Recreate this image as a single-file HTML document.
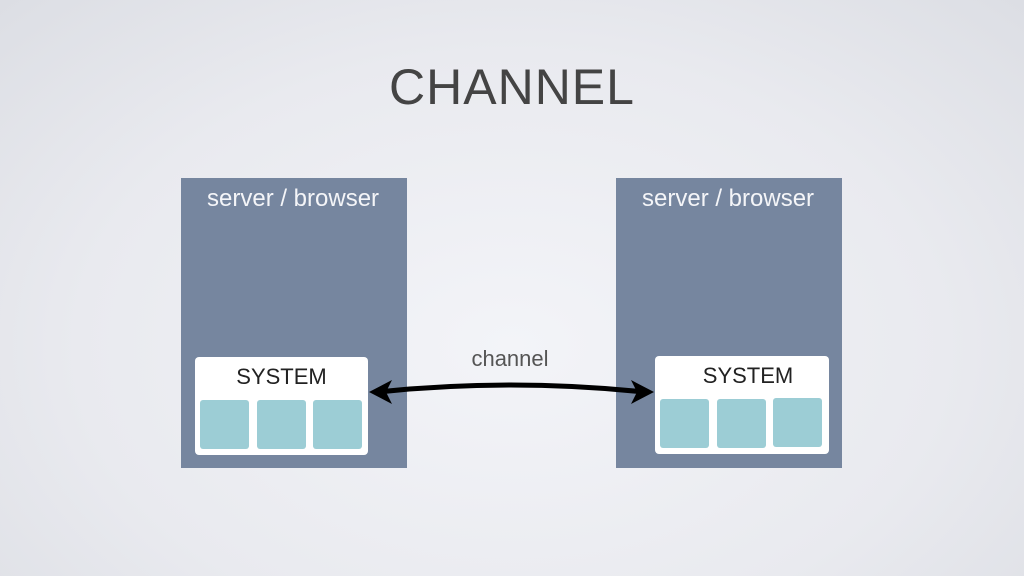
<!DOCTYPE html>
<html><head><style>
body{margin:0;width:1024px;height:576px;overflow:hidden;background:radial-gradient(ellipse at 50% 60%,#f3f4f8 0%,#e9eaef 60%,#dcdee4 100%);font-family:"Liberation Sans",sans-serif;position:relative}
.t{position:absolute;color:#444;text-align:center;white-space:nowrap}
.p{position:absolute;background:#76869f;top:178px;width:226px;height:290px}
.w{position:absolute;background:#fff;border-radius:4px}
.s{position:absolute;background:#9ccdd5;border-radius:3px;width:49px;height:49px}
</style></head><body>
<div class="t" style="left:0;width:1024px;top:58px;font-size:50px;letter-spacing:1px">CHANNEL</div>
<div class="p" style="left:181px"></div>
<div class="p" style="left:616px"></div>
<div class="t" style="left:207px;top:185px;font-size:24px;color:#f4f5f8">server / browser</div>
<div class="t" style="left:642px;top:185px;font-size:24px;color:#f4f5f8">server / browser</div>
<div class="w" style="left:195px;top:357px;width:173px;height:98px"></div>
<div class="w" style="left:655px;top:356px;width:174px;height:98px"></div>
<div class="t" style="left:195px;width:173px;top:364px;font-size:22px;color:#222">SYSTEM</div>
<div class="t" style="left:655px;width:186px;top:363px;font-size:22px;color:#222">SYSTEM</div>
<div class="s" style="left:200px;top:400px"></div>
<div class="s" style="left:257px;top:400px"></div>
<div class="s" style="left:313px;top:400px"></div>
<div class="s" style="left:660px;top:399px"></div>
<div class="s" style="left:717px;top:399px"></div>
<div class="s" style="left:773px;top:398px"></div>
<div class="t" style="left:440px;width:140px;top:346px;font-size:22px;color:#555">channel</div>
<svg style="position:absolute;left:0;top:0" width="1024" height="576">
<path d="M378,392 Q510,378 644,392" stroke="#000" stroke-width="5" fill="none"/>
<path d="M369,392 L392,380 L386,392 L392,404 Z" fill="#000"/>
<path d="M654,392 L631,380 L637,392 L631,404 Z" fill="#000"/>
</svg>
</body></html>
